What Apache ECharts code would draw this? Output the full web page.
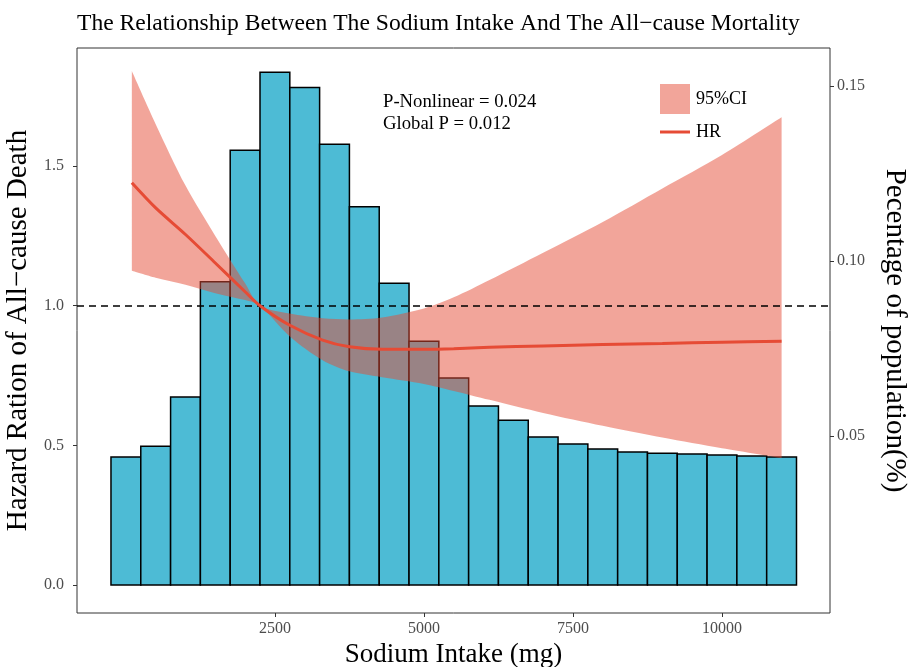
<!DOCTYPE html>
<html><head><meta charset="utf-8">
<script src="https://cdn.jsdelivr.net/npm/echarts@6/dist/echarts.min.js"></script>
<style>html,body{margin:0;padding:0;background:#fff}#c{width:921px;height:667px}</style>
</head><body><div id="c"></div>
<script>
// Histogram of sodium intake (bin centres in mg, heights in left-axis units)
const binCenters = [0,500,1000,1500,2000,2500,3000,3500,4000,4500,5000,5500,6000,6500,7000,7500,8000,8500,9000,9500,10000,10500,11000];
const binHeights = [0.458,0.497,0.673,1.086,1.557,1.836,1.781,1.578,1.354,1.080,0.873,0.741,0.641,0.590,0.530,0.505,0.487,0.476,0.472,0.469,0.465,0.462,0.458];
const binWidth = 500;
// Restricted cubic spline: hazard ratio and 95% CI
const curveX  = [100,500,1000,1500,2000,2250,2750,3300,3750,4300,5000,5500,6100,7000,8000,9000,10000,11000];
const hrValues = [1.44,1.35,1.255,1.153,1.05,1.0,0.93,0.877,0.853,0.844,0.844,0.846,0.851,0.856,0.861,0.865,0.869,0.873];
const ciUpper  = [1.84,1.65,1.43,1.25,1.08,1.0,0.972,0.955,0.951,0.958,0.99,1.03,1.092,1.19,1.30,1.42,1.54,1.675];
const ciLower  = [1.125,1.10,1.075,1.045,1.02,1.0,0.89,0.805,0.765,0.744,0.72,0.695,0.663,0.616,0.570,0.528,0.49,0.455];
const refHR = 1;
const xTicks = [2500,5000,7500,10000];
const leftTicks = [0,0.5,1.0,1.5];
const rightTicks = [0.05,0.10,0.15];
const pTexts = ['P-Nonlinear = 0.024','Global P = 0.012'];

const FONT = "'Liberation Serif','DejaVu Serif',serif";
const RED = '#E64B35';
const BAND = 'rgba(230,75,53,0.5)';
const chart = echarts.init(document.getElementById('c'));
const lbl = {fontFamily: FONT, fontSize: 16, color: '#4D4D4D'};
const nameStyle = size => ({fontFamily: FONT, fontSize: size, color: '#000'});
const tick = vals => ({show: true, length: 4, lineStyle: {color: '#333', width: 1}, customValues: vals});

chart.setOption({
  animation: false,
  title: {text: 'The Relationship Between The Sodium Intake And The All\u2212cause Mortality', left: 72, top: 7,
    textStyle: {fontFamily: FONT, fontSize: 23.6, fontWeight: 'normal', color: '#000'}},
  grid: {left: 77, top: 48, width: 753, height: 565, outerBoundsMode: 'none', containLabel: false,
    show: true, borderColor: '#333', borderWidth: 1, backgroundColor: 'transparent'},
  xAxis: {type: 'value', min: -820, max: 11812,
    name: 'Sodium Intake (mg)', nameLocation: 'middle', nameGap: 26, nameTextStyle: nameStyle(27),
    axisLine: {show: false, onZero: false}, splitLine: {show: false},
    axisTick: tick(xTicks),
    axisLabel: Object.assign({margin: 8, customValues: xTicks, formatter: v => String(v)}, lbl)},
  yAxis: [
    {type: 'value', min: -0.1003, max: 1.9227, position: 'left',
      name: 'Hazard Ration of All\u2212cause Death', nameLocation: 'middle', nameGap: 28, nameTextStyle: nameStyle(29),
      axisLine: {show: false, onZero: false}, splitLine: {show: false},
      axisTick: tick(leftTicks),
      axisLabel: Object.assign({margin: 13, customValues: leftTicks, formatter: v => v.toFixed(1)}, lbl)},
    {type: 'value', min: -0.00057, max: 0.16086, position: 'right',
      name: 'Pecentage of population(%)', nameLocation: 'middle', nameGap: 50, nameRotate: -90, nameTextStyle: nameStyle(29),
      axisLine: {show: false, onZero: false}, splitLine: {show: false},
      axisTick: tick(rightTicks),
      axisLabel: Object.assign({margin: 7, customValues: rightTicks, formatter: v => v.toFixed(2)}, lbl)}
  ],
  series: [
    {type: 'custom', name: 'hist', z: 1,
      data: binCenters.map((c, i) => [c, binHeights[i]]),
      renderItem: (params, api) => {
        const c = api.value(0), h = api.value(1);
        const p0 = api.coord([c - binWidth / 2, h]);
        const p1 = api.coord([c + binWidth / 2, 0]);
        return {type: 'rect', shape: {x: p0[0], y: p0[1], width: p1[0] - p0[0], height: p1[1] - p0[1]},
          style: {fill: '#4DBBD5', stroke: '#000', lineWidth: 1.5}};
      }},
    // stacked pair: first column is the stacked (y) value, second is x
    {type: 'line', name: 'ciLow', stack: 'ci', smooth: 0.3, symbol: 'none', z: 3,
      encode: {x: 1, y: 0},
      data: curveX.map((x, i) => [ciLower[i], x]),
      lineStyle: {width: 0, opacity: 0}},
    {type: 'line', name: '95%CI', stack: 'ci', smooth: 0.3, symbol: 'none', z: 3,
      encode: {x: 1, y: 0},
      data: curveX.map((x, i) => [ciUpper[i] - ciLower[i], x]),
      lineStyle: {width: 0, opacity: 0},
      areaStyle: {color: BAND, opacity: 1}},
    {type: 'line', name: 'HR', smooth: 0.3, symbol: 'none', z: 5,
      data: curveX.map((x, i) => [x, hrValues[i]]),
      lineStyle: {color: RED, width: 3},
      markLine: {silent: true, symbol: ['none', 'none'], label: {show: false},
        lineStyle: {color: '#000', type: [7, 5], width: 1.5}, data: [{yAxis: refHR}]}}
  ],
  graphic: [
    {type: 'text', left: 383, top: 93, style: {text: pTexts[0], font: '18.7px ' + FONT, fill: '#000'}},
    {type: 'text', left: 383, top: 115, style: {text: pTexts[1], font: '18.7px ' + FONT, fill: '#000'}},
    {type: 'rect', shape: {x: 660, y: 84, width: 30, height: 30}, style: {fill: BAND}},
    {type: 'text', left: 696, top: 90, style: {text: '95%CI', font: '18px ' + FONT, fill: '#000'}},
    {type: 'line', shape: {x1: 660, y1: 132, x2: 690, y2: 132}, style: {stroke: RED, lineWidth: 3}},
    {type: 'text', left: 696, top: 123, style: {text: 'HR', font: '18px ' + FONT, fill: '#000'}}
  ]
});
</script></body></html>
